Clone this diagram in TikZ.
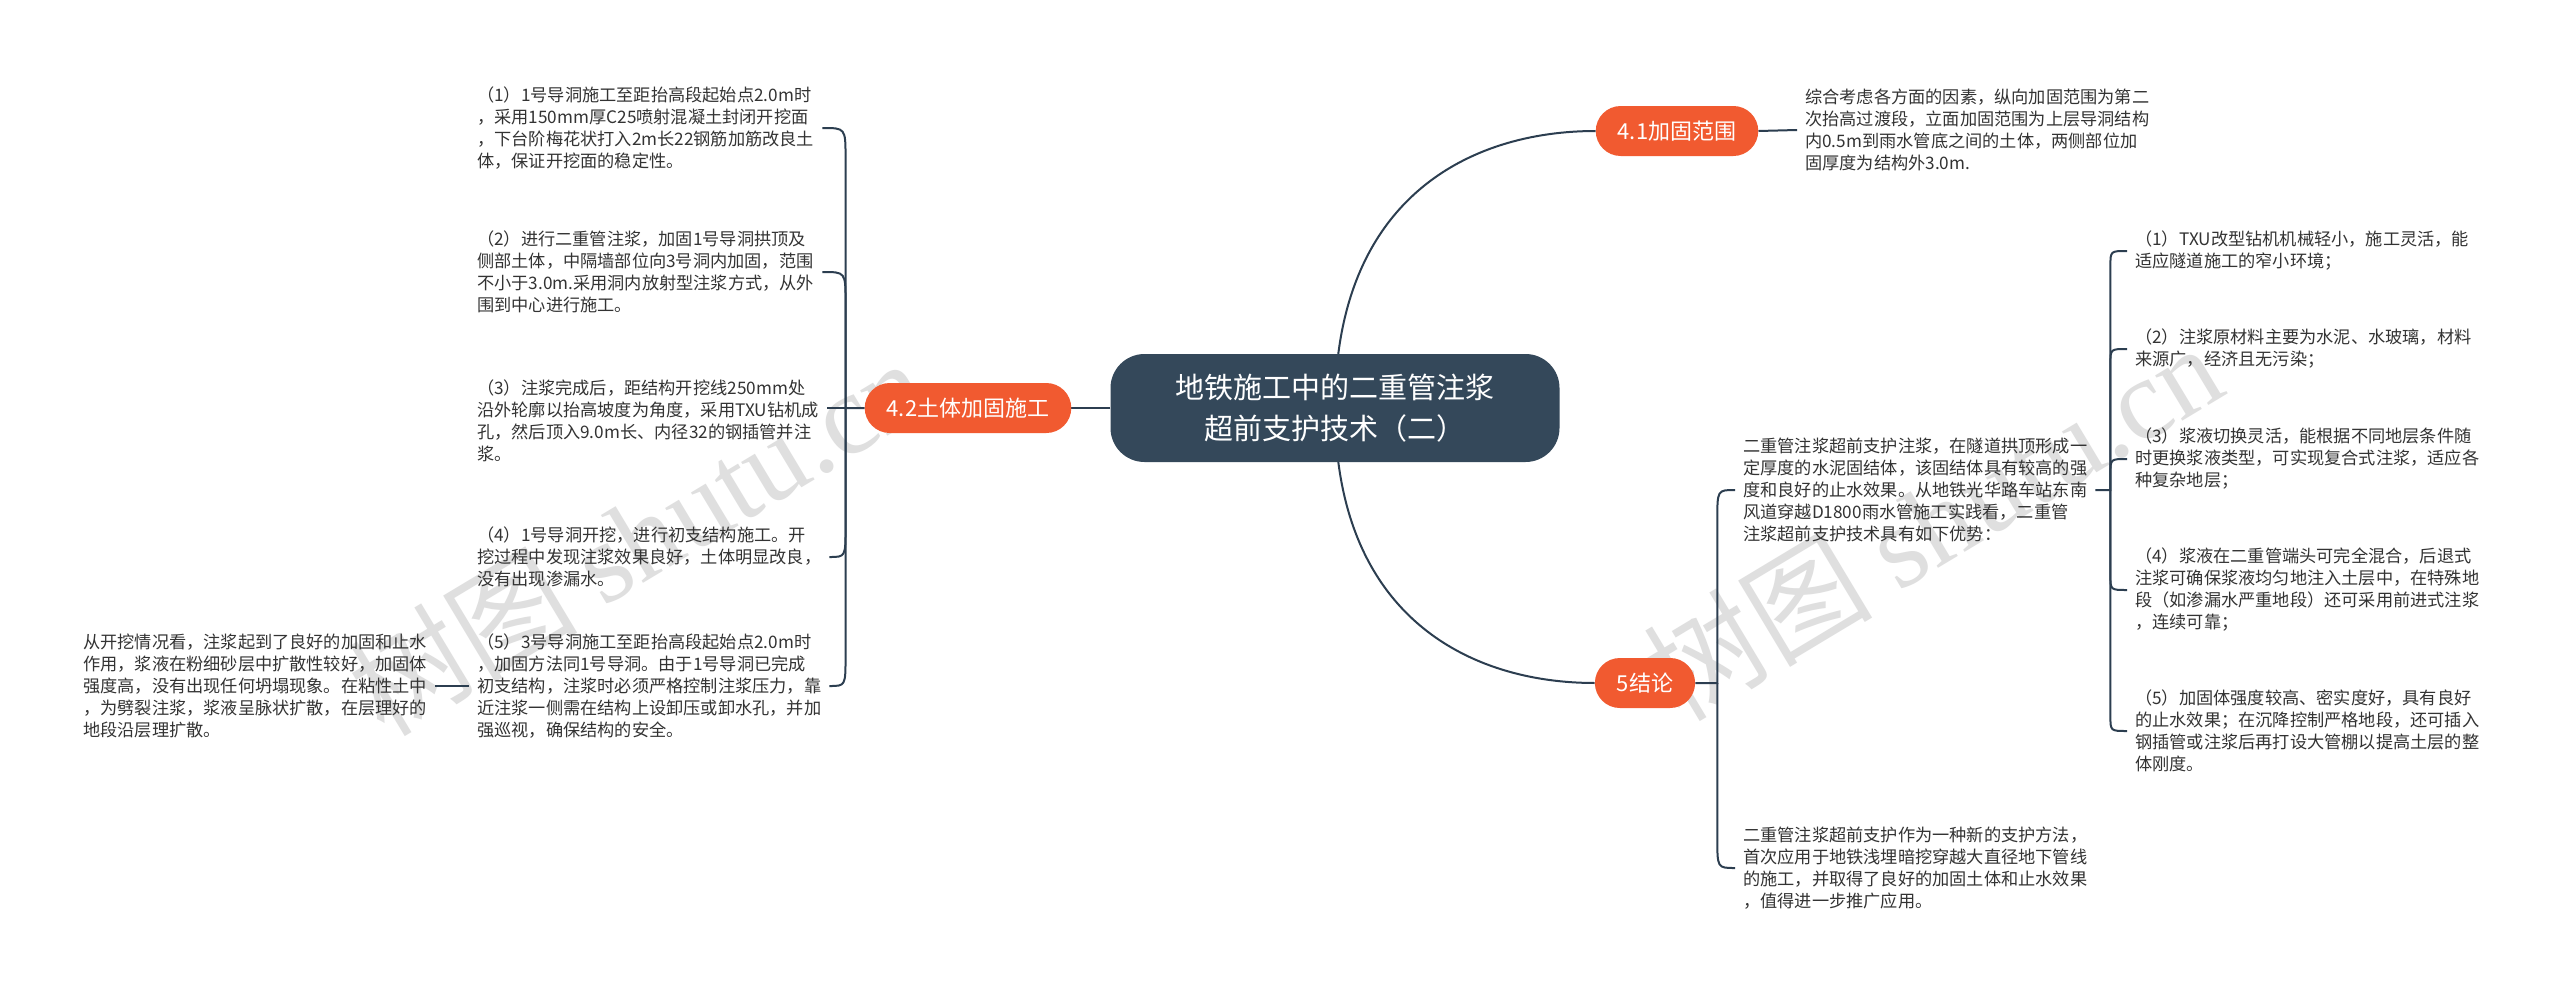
\documentclass[tikz,border=0pt]{standalone}
\usepackage{fontspec}
\newfontfamily\cjk{Noto Sans CJK SC}
\newfontfamily\wmserif{Liberation Serif}
\usetikzlibrary{calc}
\definecolor{hub}{HTML}{34485A}
\definecolor{br}{HTML}{F15A30}
\definecolor{ln}{HTML}{2C3E50}
\definecolor{tx}{HTML}{333333}
\pgfdeclarelayer{wm}
\pgfdeclarelayer{bg}
\pgfsetlayers{wm,bg,main}
\begin{document}
\begin{tikzpicture}[x=1pt,y=-1pt,
  hubnode/.style={fill=hub, text=white, rounded corners=34pt, minimum width=449pt, minimum height=108pt, align=center, font=\fontsize{29}{41}\cjk, inner sep=0pt},
  branchnode/.style={fill=br, text=white, rounded corners=25pt, minimum height=50pt, inner xsep=22pt, inner ysep=0pt, font=\fontsize{22}{26}\cjk},
  leaf/.style={align=left, text=tx, font=\fontsize{17.2}{22}\cjk, inner xsep=8pt, inner ysep=4pt, anchor=west},
  conn/.style={draw=ln, line width=2pt},
  wmark/.style={text=gray!25, font=\fontsize{115}{120}\cjk, rotate=31}
]
\useasboundingbox (0,0) rectangle (2560,1001);
\begin{pgfonlayer}{wm}
\fill[white] (0,0) rectangle (2560,1001);
\node[wmark] (wm1) at (637,536) {树图 {\wmserif shutu.cn}};
\node[wmark] (wm2) at (1932,521) {树图 {\wmserif shutu.cn}};
\end{pgfonlayer}

\node[hubnode] (c) at (1335,408) {地铁施工中的二重管注浆\\超前支护技术（二）};
\node[branchnode] (g41) at (1677,131) {4.1加固范围};
\node[branchnode] (g42) at (968,408) {4.2土体加固施工};
\node[branchnode] (g5) at (1645,683) {5结论};

\node[leaf] (L1) at (469,128) {（1）1号导洞施工至距抬高段起始点2.0m时\\，采用150mm厚C25喷射混凝土封闭开挖面\\，下台阶梅花状打入2m长22钢筋加筋改良土\\体，保证开挖面的稳定性。};
\node[leaf] (L2) at (469,272) {（2）进行二重管注浆，加固1号导洞拱顶及\\侧部土体，中隔墙部位向3号洞内加固，范围\\不小于3.0m.采用洞内放射型注浆方式，从外\\围到中心进行施工。};
\node[leaf] (L3) at (469,421) {（3）注浆完成后，距结构开挖线250mm处\\沿外轮廓以抬高坡度为角度，采用TXU钻机成\\孔，然后顶入9.0m长、内径32的钢插管并注\\浆。};
\node[leaf] (L4) at (469,557) {（4）1号导洞开挖，进行初支结构施工。开\\挖过程中发现注浆效果良好，土体明显改良，\\没有出现渗漏水。};
\node[leaf] (L5) at (469,686) {（5）3号导洞施工至距抬高段起始点2.0m时\\，加固方法同1号导洞。由于1号导洞已完成\\初支结构，注浆时必须严格控制注浆压力，靠\\近注浆一侧需在结构上设卸压或卸水孔，并加\\强巡视，确保结构的安全。};
\node[leaf] (L6) at (75,686) {从开挖情况看，注浆起到了良好的加固和止水\\作用，浆液在粉细砂层中扩散性较好，加固体\\强度高，没有出现任何坍塌现象。在粘性土中\\，为劈裂注浆，浆液呈脉状扩散，在层理好的\\地段沿层理扩散。};

\node[leaf] (R41) at (1797,130) {综合考虑各方面的因素，纵向加固范围为第二\\次抬高过渡段，立面加固范围为上层导洞结构\\内0.5m到雨水管底之间的土体，两侧部位加\\固厚度为结构外3.0m.};
\node[leaf] (A) at (1735,490) {二重管注浆超前支护注浆，在隧道拱顶形成一\\定厚度的水泥固结体，该固结体具有较高的强\\度和良好的止水效果。从地铁光华路车站东南\\风道穿越D1800雨水管施工实践看，二重管\\注浆超前支护技术具有如下优势：};
\node[leaf] (B) at (1735,868) {二重管注浆超前支护作为一种新的支护方法，\\首次应用于地铁浅埋暗挖穿越大直径地下管线\\的施工，并取得了良好的加固土体和止水效果\\，值得进一步推广应用。};
\node[leaf] (A1) at (2127,251) {（1）TXU改型钻机机械轻小，施工灵活，能\\适应隧道施工的窄小环境；};
\node[leaf] (A2) at (2127,349) {（2）注浆原材料主要为水泥、水玻璃，材料\\来源广，经济且无污染；};
\node[leaf] (A3) at (2127,459) {（3）浆液切换灵活，能根据不同地层条件随\\时更换浆液类型，可实现复合式注浆，适应各\\种复杂地层；};
\node[leaf] (A4) at (2127,590) {（4）浆液在二重管端头可完全混合，后退式\\注浆可确保浆液均匀地注入土层中，在特殊地\\段（如渗漏水严重地段）还可采用前进式注浆\\，连续可靠；};
\node[leaf] (A5) at (2127,731) {（5）加固体强度较高、密实度好，具有良好\\的止水效果；在沉降控制严格地段，还可插入\\钢插管或注浆后再打设大管棚以提高土层的整\\体刚度。};

\coordinate (s42) at ($(g42.west)+(-19,0)$);
\coordinate (s5) at ($(g5.east)+(22,0)$);
\coordinate (sA) at ($(A.east)+(15,0)$);

\begin{pgfonlayer}{bg}
\draw[conn] (c.center) .. controls ($(c.center)!0.76!(c.center|-g41.west)$) and ($(c.center|-g41.west)!0.52!(g41.west)$) .. (g41.west);
\draw[conn] (c.center) .. controls ($(c.center)!0.76!(c.center|-g5.west)$) and ($(c.center|-g5.west)!0.52!(g5.west)$) .. (g5.west);
\draw[conn] (c.west) -- (g42.east);
\draw[conn] (g42.west) -- (s42) -- ($(s42|-L1.east)+(0,30)$) .. controls (s42|-L1.east) .. (L1.east);
\draw[conn] (s42) -- ($(s42|-L2.east)+(0,30)$) .. controls (s42|-L2.east) .. (L2.east);
\draw[conn] (s42) -- (s42-|L3.east);
\draw[conn] (s42) -- ($(s42|-L4.east)+(0,-30)$) .. controls (s42|-L4.east) .. (L4.east);
\draw[conn] (s42) -- ($(s42|-L5.east)+(0,-30)$) .. controls (s42|-L5.east) .. (L5.east);
\draw[conn] (L5.west) -- (L6.east);
\draw[conn] (g41.east) -- (R41.west);
\draw[conn] (g5.east) -- (s5) -- ($(s5|-A.west)+(0,30)$) .. controls (s5|-A.west) .. (A.west);
\draw[conn] (s5) -- ($(s5|-B.west)+(0,-30)$) .. controls (s5|-B.west) .. (B.west);
\draw[conn] (A.east) -- (sA) -- ($(sA|-A1.west)+(0,15)$) .. controls (sA|-A1.west) .. (A1.west);
\draw[conn] (sA) -- ($(sA|-A2.west)+(0,15)$) .. controls (sA|-A2.west) .. (A2.west);
\draw[conn] (sA) -- ($(sA|-A3.west)+(0,15)$) .. controls (sA|-A3.west) .. (A3.west);
\draw[conn] (sA) -- ($(sA|-A4.west)+(0,-15)$) .. controls (sA|-A4.west) .. (A4.west);
\draw[conn] (sA) -- ($(sA|-A5.west)+(0,-15)$) .. controls (sA|-A5.west) .. (A5.west);
\end{pgfonlayer}
\end{tikzpicture}
\end{document}
